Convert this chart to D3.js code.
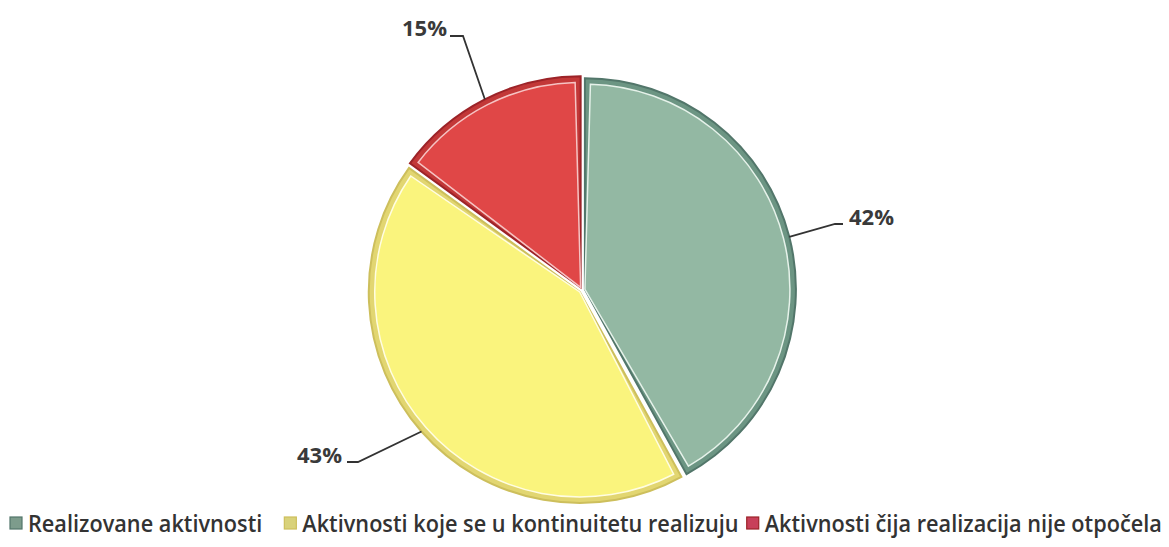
<!DOCTYPE html>
<head>
    <meta charset="utf-8">
    <style>
        body{
            margin:0;
            background:#fff;
        }
        svg{
            display:block;
        }
        .lbl{
            font-family: 'Open Sans', sans-serif;
            font-weight:700;
            font-size:22px;
            fill:#3a3a3a;
        }
        .leg{
            font-family: 'Open Sans', sans-serif;
            font-weight:600;
            font-size:24px;
            fill:#333;
        }
        .leader{
            fill:none;
            stroke:#333;
            stroke-width:1.8px;
        }
    </style>
</head>
<body>
    <div id="chart"></div>
    <script src="https://cdn.jsdelivr.net/npm/d3@7/dist/d3.min.js"></script>
    <script>
        // data
        var categories = ["Realizovane aktivnosti", "Aktivnosti koje se u kontinuitetu realizuju", "Aktivnosti čija realizacija nije otpočela"];
        var values = [42, 43, 15];
        var labels = ["42%", "43%", "15%"];

        // colours: main fill, edge band, outer line, highlight
        var mainCol = ["#93b8a3", "#faf47d", "#e04747"];
        var bandCol = ["#6c9583", "#e2d671", "#c23838"];
        var lineCol = ["#52766a", "#cdbf5c", "#9c2328"];
        var hiCol = ["#e6f2ea", "#fffde2", "#f6c4c4"];
        var markCol = ["#7d9c8c", "#d9d27a", "#c8405a"];

        var width = 1169, height = 547;
        var cx = 582, cy = 290, r = 211, explode = 3;

        var svg = d3.select("#chart").append("svg")
            .attr("width", width)
            .attr("height", height);

        var pie = d3.pie().sort(null).value(function(d) { return d; });
        var arcs = pie(values);

        var outer = d3.arc().innerRadius(0).outerRadius(r);
        var inner = d3.arc().innerRadius(0).outerRadius(r - 6)
            .padRadius(r).padAngle(11 / r);

        var g = svg.append("g").attr("transform", "translate(" + cx + "," + cy + ")");

        var slice = g.selectAll(".slice")
            .data(arcs)
            .enter().append("g")
            .attr("class", "slice")
            .attr("transform", function(d) {
                var a = (d.startAngle + d.endAngle) / 2;
                return "translate(" + (Math.sin(a) * explode) + "," + (-Math.cos(a) * explode) + ")";
            });

        slice.append("path")
            .attr("d", outer)
            .attr("fill", function(d, i) { return bandCol[i]; })
            .attr("stroke", function(d, i) { return lineCol[i]; })
            .attr("stroke-width", 2);

        slice.append("path")
            .attr("d", inner)
            .attr("fill", function(d, i) { return mainCol[i]; })
            .attr("stroke", function(d, i) { return hiCol[i]; })
            .attr("stroke-width", 1.5);

        // leader lines: start on the slice edge, elbow, then short level run to the label
        var elbows = [[835, 224, 843], [358, 462, 347], [463, 36, 450]];
        var textPos = [[849, 225, "start"], [342, 463, "end"], [447, 36, "end"]];

        arcs.forEach(function(d, i) {
            var a = (d.startAngle + d.endAngle) / 2;
            var sx = cx + Math.sin(a) * (r + explode);
            var sy = cy - Math.cos(a) * (r + explode);
            var e = elbows[i];
            svg.append("path")
                .attr("class", "leader")
                .attr("d", d3.line()([[sx, sy], [e[0], e[1]], [e[2], e[1]]]));
            svg.append("text")
                .attr("class", "lbl")
                .attr("x", textPos[i][0])
                .attr("y", textPos[i][1])
                .attr("text-anchor", textPos[i][2])
                .text(labels[i]);
        });

        // legend: laid out in a row, text squeezed sideways to fit the width
        var legLeft = 10, legRight = 1162, legBase = 532;
        var box = 12, boxGap = 6, itemGap = [22, 8];

        var leg = svg.selectAll(".legitem")
            .data(categories)
            .enter().append("g")
            .attr("class", "legitem");

        leg.append("rect")
            .attr("x", 0)
            .attr("y", -box - 3)
            .attr("width", box)
            .attr("height", box)
            .attr("fill", function(d, i) { return markCol[i]; })
            .attr("stroke", function(d, i) { return lineCol[i]; })
            .attr("stroke-width", 1.2);

        var txtWrap = leg.append("g");
        var txt = txtWrap.append("text")
            .attr("class", "leg")
            .attr("x", 0)
            .attr("y", 0)
            .text(function(d) { return d; });

        var natural = [];
        txt.each(function() { natural.push(this.getComputedTextLength()); });
        var fixed = 3 * (box + boxGap) + d3.sum(itemGap);
        var k = Math.min(1, (legRight - legLeft - fixed) / d3.sum(natural));

        txtWrap.attr("transform", "translate(" + (box + boxGap) + ",0) scale(" + k + ",1)");

        var xPos = legLeft;
        leg.each(function(d, i) {
            d3.select(this).attr("transform", "translate(" + xPos + "," + legBase + ")");
            xPos += box + boxGap + natural[i] * k + (itemGap[i] || 0);
        });
    </script>
</body>
